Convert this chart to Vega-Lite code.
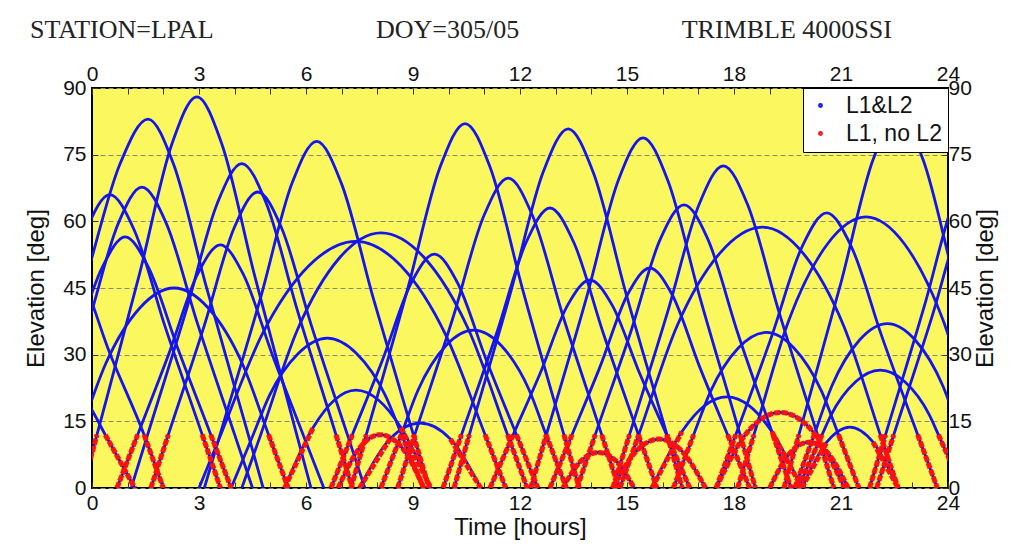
{
  "$schema": "https://vega.github.io/schema/vega-lite/v6.json",
  "autosize": "none",
  "width": 856,
  "height": 400,
  "padding": {"left": 92, "top": 88, "right": 71, "bottom": 57},
  "background": "white",
  "title": {
    "text": "STATION=LPAL\u00a0\u00a0\u00a0\u00a0\u00a0\u00a0\u00a0\u00a0\u00a0\u00a0\u00a0\u00a0\u00a0\u00a0\u00a0\u00a0\u00a0\u00a0\u00a0\u00a0\u00a0\u00a0\u00a0\u00a0\u00a0DOY=305/05\u00a0\u00a0\u00a0\u00a0\u00a0\u00a0\u00a0\u00a0\u00a0\u00a0\u00a0\u00a0\u00a0\u00a0\u00a0\u00a0\u00a0\u00a0\u00a0\u00a0\u00a0\u00a0\u00a0\u00a0\u00a0TRIMBLE 4000SSI",
    "anchor": "start",
    "frame": "group",
    "dx": -62,
    "offset": 20,
    "font": "Liberation Serif",
    "fontSize": 26,
    "fontWeight": "normal",
    "color": "#222"
  },
  "config": {
    "view": {"fill": "#fbf75e", "stroke": "#000", "strokeWidth": 2},
    "axis": {
      "labelFont": "Liberation Sans Narrow, Liberation Sans",
      "labelFontSize": 21,
      "labelColor": "#111",
      "titleFont": "Liberation Sans Narrow, Liberation Sans",
      "titleFontSize": 24,
      "titleFontWeight": "normal",
      "titleColor": "#111",
      "labelFlush": false,
      "labelOverlap": false,
      "domain": false,
      "tickColor": "#333",
      "tickSize": -6,
      "labelPadding": 10
    }
  },
  "datasets": {
    "sat": [
      {"s":"A","t":-2.5,"e":0},{"s":"A","t":-2.0,"e":12},{"s":"A","t":-1.0,"e":36.3},{"s":"A","t":-0.16,"e":58.1},{"s":"A","t":0.5,"e":66},{"s":"A","t":1.18,"e":58.1},{"s":"A","t":2.05,"e":36.3},{"s":"A","t":3.09,"e":12,"r":"A2"},{"s":"A","t":3.6,"e":0,"r":"A2"},
      {"s":"B","t":-2.0,"e":0},{"s":"B","t":-1.53,"e":12},{"s":"B","t":-0.22,"e":45.7},{"s":"B","t":0.79,"e":73},{"s":"B","t":1.57,"e":83},{"s":"B","t":2.28,"e":73},{"s":"B","t":3.19,"e":45.7},{"s":"B","t":4.38,"e":12},{"s":"B","t":4.8,"e":0},
      {"s":"C","t":-1.6,"e":0},{"s":"C","t":-1.12,"e":12},{"s":"C","t":-0.1,"e":37.2},{"s":"C","t":0.74,"e":59.6},{"s":"C","t":1.4,"e":67.7},{"s":"C","t":2.08,"e":59.6},{"s":"C","t":2.95,"e":37.2},{"s":"C","t":4.0,"e":12},{"s":"C","t":4.5,"e":0},
      {"s":"D","t":-2.0,"e":0},{"s":"D","t":-1.44,"e":12},{"s":"D","t":-0.54,"e":31.1},{"s":"D","t":0.29,"e":49.7},{"s":"D","t":0.93,"e":56.5},{"s":"D","t":1.58,"e":49.7},{"s":"D","t":2.42,"e":31.1},{"s":"D","t":3.33,"e":12,"r":"D2"},{"s":"D","t":3.9,"e":0,"r":"D2"},
      {"s":"E","t":-0.26,"e":0,"r":"E1"},{"s":"E","t":0.14,"e":12,"r":"E1"},{"s":"E","t":1.34,"e":48.4},{"s":"E","t":2.24,"e":77.4},{"s":"E","t":2.94,"e":88},{"s":"E","t":3.64,"e":77.4},{"s":"E","t":4.54,"e":48.4},{"s":"E","t":5.74,"e":12},{"s":"E","t":6.14,"e":0},
      {"s":"F","t":1.1,"e":0},{"s":"F","t":1.56,"e":12},{"s":"F","t":2.65,"e":40.2},{"s":"F","t":3.52,"e":64.2},{"s":"F","t":4.2,"e":73},{"s":"F","t":4.88,"e":64.2},{"s":"F","t":5.75,"e":40.2},{"s":"F","t":6.84,"e":12,"r":"F2"},{"s":"F","t":7.3,"e":0,"r":"F2"},
      {"s":"G","t":1.65,"e":0,"r":"G1"},{"s":"G","t":2.14,"e":12,"r":"G1"},{"s":"G","t":3.15,"e":36.6},{"s":"G","t":3.99,"e":58.6},{"s":"G","t":4.65,"e":66.6},{"s":"G","t":5.31,"e":58.6},{"s":"G","t":6.15,"e":36.6},{"s":"G","t":7.16,"e":12},{"s":"G","t":7.65,"e":0},
      {"s":"H","t":0.7,"e":0,"r":"H1"},{"s":"H","t":1.28,"e":12,"r":"H1"},{"s":"H","t":2.15,"e":30.1},{"s":"H","t":2.96,"e":48.1},{"s":"H","t":3.6,"e":54.7},{"s":"H","t":4.24,"e":48.1},{"s":"H","t":5.05,"e":30.1},{"s":"H","t":5.92,"e":12},{"s":"H","t":6.5,"e":0},
      {"s":"I","t":3.15,"e":0},{"s":"I","t":3.59,"e":12},{"s":"I","t":4.73,"e":42.9},{"s":"I","t":5.61,"e":68.6},{"s":"I","t":6.3,"e":78},{"s":"I","t":6.99,"e":68.6},{"s":"I","t":7.88,"e":42.9},{"s":"I","t":9.01,"e":12,"r":"I2"},{"s":"I","t":9.45,"e":0,"r":"I2"},
      {"s":"J1","t":3.0,"e":0},{"s":"J1","t":3.61,"e":12},{"s":"J1","t":4.76,"e":34.4},{"s":"J1","t":6.08,"e":50},{"s":"J1","t":7.4,"e":55.5},{"s":"J1","t":8.66,"e":50},{"s":"J1","t":9.92,"e":34.4},{"s":"J1","t":11.02,"e":12,"r":"J12"},{"s":"J1","t":11.6,"e":0,"r":"J12"},
      {"s":"J2","t":4.2,"e":0},{"s":"J2","t":4.73,"e":12},{"s":"J2","t":5.76,"e":35.6},{"s":"J2","t":6.93,"e":51.7},{"s":"J2","t":8.1,"e":57.4},{"s":"J2","t":9.33,"e":51.7},{"s":"J2","t":10.56,"e":35.6},{"s":"J2","t":11.65,"e":12,"r":"J22"},{"s":"J2","t":12.2,"e":0,"r":"J22"},
      {"s":"K","t":3.9,"e":0},{"s":"K","t":4.52,"e":12},{"s":"K","t":4.98,"e":20.9},{"s":"K","t":5.79,"e":30.3},{"s":"K","t":6.6,"e":33.7},{"s":"K","t":7.41,"e":30.3},{"s":"K","t":8.22,"e":20.9},{"s":"K","t":8.68,"e":12,"r":"K2"},{"s":"K","t":9.3,"e":0,"r":"K2"},
      {"s":"L","t":5.4,"e":0,"r":"L1"},{"s":"L","t":6.2,"e":13.6,"r":"L1"},{"s":"L","t":6.8,"e":19.8},{"s":"L","t":7.4,"e":22},{"s":"L","t":8.03,"e":19.8},{"s":"L","t":8.66,"e":13.6,"r":"L2"},{"s":"L","t":9.5,"e":0,"r":"L2"},
      {"s":"M","t":6.9,"e":0,"r":"M"},{"s":"M","t":7.5,"e":9,"r":"M"},{"s":"M","t":8.07,"e":12,"r":"M"},{"s":"M","t":8.7,"e":9,"r":"M"},{"s":"M","t":9.3,"e":0,"r":"M"},
      {"s":"N","t":7.5,"e":0,"r":"N"},{"s":"N","t":8.35,"e":11,"r":"N"},{"s":"N","t":9.2,"e":14.6},{"s":"N","t":10.05,"e":11,"r":"N2"},{"s":"N","t":10.9,"e":0,"r":"N2"},
      {"s":"O","t":6.7,"e":0,"r":"O1"},{"s":"O","t":7.3,"e":12,"r":"O1"},{"s":"O","t":8.15,"e":28.9},{"s":"O","t":8.96,"e":46.3},{"s":"O","t":9.6,"e":52.6},{"s":"O","t":10.24,"e":46.3},{"s":"O","t":11.05,"e":28.9},{"s":"O","t":11.9,"e":12,"r":"O2"},{"s":"O","t":12.5,"e":0,"r":"O2"},
      {"s":"P","t":7.26,"e":0,"r":"P1"},{"s":"P","t":7.69,"e":12,"r":"P1"},{"s":"P","t":8.86,"e":45.1},{"s":"P","t":9.76,"e":72.2},{"s":"P","t":10.46,"e":82},{"s":"P","t":11.16,"e":72.2},{"s":"P","t":12.06,"e":45.1},{"s":"P","t":13.23,"e":12,"r":"P2"},{"s":"P","t":13.66,"e":0,"r":"P2"},
      {"s":"Q","t":8.57,"e":0,"r":"Q1"},{"s":"Q","t":9.05,"e":12,"r":"Q1"},{"s":"Q","t":10.12,"e":38.3},{"s":"Q","t":10.99,"e":61.3},{"s":"Q","t":11.67,"e":69.7},{"s":"Q","t":12.35,"e":61.3},{"s":"Q","t":13.22,"e":38.3},{"s":"Q","t":14.29,"e":12,"r":"Q2"},{"s":"Q","t":14.77,"e":0,"r":"Q2"},
      {"s":"R","t":9.84,"e":0,"r":"R1"},{"s":"R","t":10.36,"e":12,"r":"R1"},{"s":"R","t":11.34,"e":34.7},{"s":"R","t":12.18,"e":55.4},{"s":"R","t":12.84,"e":63},{"s":"R","t":13.5,"e":55.4},{"s":"R","t":14.34,"e":34.7},{"s":"R","t":15.32,"e":12,"r":"R2"},{"s":"R","t":15.84,"e":0,"r":"R2"},
      {"s":"S","t":10.15,"e":0,"r":"S1"},{"s":"S","t":10.58,"e":12,"r":"S1"},{"s":"S","t":11.75,"e":44.4},{"s":"S","t":12.65,"e":71.1},{"s":"S","t":13.35,"e":80.8},{"s":"S","t":14.05,"e":71.1},{"s":"S","t":14.95,"e":44.4},{"s":"S","t":16.12,"e":12,"r":"S2"},{"s":"S","t":16.55,"e":0,"r":"S2"},
      {"s":"T","t":8.1,"e":0,"r":"T1"},{"s":"T","t":8.67,"e":12,"r":"T1"},{"s":"T","t":9.14,"e":22},{"s":"T","t":9.92,"e":32},{"s":"T","t":10.7,"e":35.5},{"s":"T","t":11.48,"e":32},{"s":"T","t":12.26,"e":22},{"s":"T","t":12.73,"e":12,"r":"T2"},{"s":"T","t":13.3,"e":0,"r":"T2"},
      {"s":"U","t":11.16,"e":0,"r":"U1"},{"s":"U","t":11.81,"e":12,"r":"U1"},{"s":"U","t":12.56,"e":25.7},{"s":"U","t":13.34,"e":41.2},{"s":"U","t":13.96,"e":46.8},{"s":"U","t":14.58,"e":41.2},{"s":"U","t":15.36,"e":25.7},{"s":"U","t":16.11,"e":12,"r":"U2"},{"s":"U","t":16.76,"e":0,"r":"U2"},
      {"s":"V","t":12.3,"e":0,"r":"V1"},{"s":"V","t":12.74,"e":12,"r":"V1"},{"s":"V","t":13.88,"e":43.3},{"s":"V","t":14.76,"e":69.3},{"s":"V","t":15.45,"e":78.8},{"s":"V","t":16.14,"e":69.3},{"s":"V","t":17.03,"e":43.3},{"s":"V","t":18.17,"e":12,"r":"V2"},{"s":"V","t":18.6,"e":0,"r":"V2"},
      {"s":"W","t":12.84,"e":0,"r":"W1"},{"s":"W","t":13.46,"e":12,"r":"W1"},{"s":"W","t":14.24,"e":27.2},{"s":"W","t":15.02,"e":43.6},{"s":"W","t":15.64,"e":49.5},{"s":"W","t":16.26,"e":43.6},{"s":"W","t":17.04,"e":27.2},{"s":"W","t":17.82,"e":12,"r":"W2"},{"s":"W","t":18.44,"e":0,"r":"W2"},
      {"s":"X","t":13.6,"e":0,"r":"X1"},{"s":"X","t":14.11,"e":12,"r":"X1"},{"s":"X","t":15.1,"e":35},{"s":"X","t":15.94,"e":56.1},{"s":"X","t":16.6,"e":63.7},{"s":"X","t":17.26,"e":56.1},{"s":"X","t":18.1,"e":35},{"s":"X","t":19.09,"e":12,"r":"X2"},{"s":"X","t":19.6,"e":0,"r":"X2"},
      {"s":"Y","t":14.6,"e":0,"r":"Y1"},{"s":"Y","t":15.07,"e":12,"r":"Y1"},{"s":"Y","t":16.15,"e":39.9},{"s":"Y","t":17.02,"e":63.8},{"s":"Y","t":17.7,"e":72.5},{"s":"Y","t":18.38,"e":63.8},{"s":"Y","t":19.25,"e":39.9},{"s":"Y","t":20.34,"e":12,"r":"Y2"},{"s":"Y","t":20.8,"e":0,"r":"Y2"},
      {"s":"Z","t":14.8,"e":0,"r":"Z1"},{"s":"Z","t":15.33,"e":12,"r":"Z1"},{"s":"Z","t":16.4,"e":36.4},{"s":"Z","t":17.6,"e":52.8},{"s":"Z","t":18.8,"e":58.7},{"s":"Z","t":19.94,"e":52.8},{"s":"Z","t":21.08,"e":36.4},{"s":"Z","t":22.1,"e":12,"r":"Z2"},{"s":"Z","t":22.6,"e":0,"r":"Z2"},
      {"s":"AA","t":17.5,"e":0,"r":"AA1"},{"s":"AA","t":18.05,"e":12,"r":"AA1"},{"s":"AA","t":19.05,"e":34},{"s":"AA","t":19.92,"e":54.5},{"s":"AA","t":20.6,"e":61.9},{"s":"AA","t":21.28,"e":54.5},{"s":"AA","t":22.15,"e":34},{"s":"AA","t":23.15,"e":12,"r":"AA2"},{"s":"AA","t":23.7,"e":0,"r":"AA2"},
      {"s":"AB","t":18.1,"e":0,"r":"AB1"},{"s":"AB","t":18.56,"e":12,"r":"AB1"},{"s":"AB","t":19.54,"e":37.8},{"s":"AB","t":20.62,"e":54.9},{"s":"AB","t":21.7,"e":61},{"s":"AB","t":22.78,"e":54.9},{"s":"AB","t":23.86,"e":37.8},{"s":"AB","t":24.84,"e":12},{"s":"AB","t":25.3,"e":0},
      {"s":"AC","t":19.4,"e":0,"r":"AC1"},{"s":"AC","t":19.82,"e":12,"r":"AC1"},{"s":"AC","t":21.0,"e":46.2},{"s":"AC","t":21.9,"e":73.9},{"s":"AC","t":22.6,"e":84},{"s":"AC","t":23.3,"e":73.9},{"s":"AC","t":24.2,"e":46.2},{"s":"AC","t":25.38,"e":12},{"s":"AC","t":25.8,"e":0},
      {"s":"AD","t":19.7,"e":0,"r":"AD1"},{"s":"AD","t":20.25,"e":12,"r":"AD1"},{"s":"AD","t":20.74,"e":22.9},{"s":"AD","t":21.52,"e":33.3},{"s":"AD","t":22.3,"e":37},{"s":"AD","t":23.08,"e":33.3},{"s":"AD","t":23.86,"e":22.9},{"s":"AD","t":24.35,"e":12,"r":"AD2"},{"s":"AD","t":24.9,"e":0,"r":"AD2"},
      {"s":"AE","t":19.8,"e":0,"r":"AE1"},{"s":"AE","t":20.47,"e":12,"r":"AE1"},{"s":"AE","t":20.72,"e":16.4},{"s":"AE","t":21.41,"e":23.9},{"s":"AE","t":22.1,"e":26.5},{"s":"AE","t":22.79,"e":23.9},{"s":"AE","t":23.48,"e":16.4},{"s":"AE","t":23.73,"e":12,"r":"AE2"},{"s":"AE","t":24.4,"e":0,"r":"AE2"},
      {"s":"AF","t":16.3,"e":0,"r":"AF1"},{"s":"AF","t":16.87,"e":12,"r":"AF1"},{"s":"AF","t":17.34,"e":21.7},{"s":"AF","t":18.12,"e":31.5},{"s":"AF","t":18.9,"e":35},{"s":"AF","t":19.68,"e":31.5},{"s":"AF","t":20.46,"e":21.7},{"s":"AF","t":20.93,"e":12,"r":"AF2"},{"s":"AF","t":21.5,"e":0,"r":"AF2"},
      {"s":"AG","t":15.7,"e":0,"r":"AG1"},{"s":"AG","t":16.54,"e":12.7,"r":"AG1"},{"s":"AG","t":17.17,"e":18.5},{"s":"AG","t":17.8,"e":20.5},{"s":"AG","t":18.43,"e":18.5},{"s":"AG","t":19.06,"e":12.7,"r":"AG2"},{"s":"AG","t":19.9,"e":0,"r":"AG2"},
      {"s":"AH","t":17.5,"e":0,"r":"AH"},{"s":"AH","t":18.4,"e":12.8,"r":"AH"},{"s":"AH","t":19.3,"e":17,"r":"AH"},{"s":"AH","t":20.2,"e":12.8,"r":"AH"},{"s":"AH","t":21.1,"e":0,"r":"AH"},
      {"s":"AI","t":19.9,"e":0,"r":"AI1"},{"s":"AI","t":20.6,"e":10.3,"r":"AI1"},{"s":"AI","t":21.25,"e":13.7},{"s":"AI","t":21.9,"e":10.3,"r":"AI2"},{"s":"AI","t":22.6,"e":0,"r":"AI2"},
      {"s":"AJ","t":19.0,"e":0,"r":"AJ"},{"s":"AJ","t":19.55,"e":7.7,"r":"AJ"},{"s":"AJ","t":20.1,"e":10.3,"r":"AJ"},{"s":"AJ","t":20.65,"e":7.7,"r":"AJ"},{"s":"AJ","t":21.2,"e":0,"r":"AJ"},
      {"s":"AK","t":21.8,"e":0,"r":"AK1"},{"s":"AK","t":22.25,"e":12,"r":"AK1"},{"s":"AK","t":23.35,"e":41.3},{"s":"AK","t":24.22,"e":66},{"s":"AK","t":24.9,"e":75},
      {"s":"AL","t":22.0,"e":0,"r":"AL1"},{"s":"AL","t":22.48,"e":12,"r":"AL1"},{"s":"AL","t":23.55,"e":38.5},{"s":"AL","t":24.42,"e":61.6},{"s":"AL","t":25.1,"e":70},
      {"s":"AM","t":14.6,"e":0,"r":"AM"},{"s":"AM","t":15.25,"e":8.2,"r":"AM"},{"s":"AM","t":15.9,"e":11,"r":"AM"},{"s":"AM","t":16.55,"e":8.2,"r":"AM"},{"s":"AM","t":17.2,"e":0,"r":"AM"},
      {"s":"AN","t":13.2,"e":0,"r":"AN"},{"s":"AN","t":13.7,"e":6,"r":"AN"},{"s":"AN","t":14.2,"e":8,"r":"AN"},{"s":"AN","t":14.7,"e":6,"r":"AN"},{"s":"AN","t":15.2,"e":0,"r":"AN"},
      {"s":"AP","t":-4.0,"e":0},{"s":"AP","t":-3.5,"e":12},{"s":"AP","t":-2.5,"e":30.3},{"s":"AP","t":-1.66,"e":48.4},{"s":"AP","t":-1.0,"e":55},{"s":"AP","t":-0.34,"e":48.4},{"s":"AP","t":0.5,"e":30.3},{"s":"AP","t":1.46,"e":12,"r":"AP2"},{"s":"AP","t":2.0,"e":0,"r":"AP2"},
      {"s":"AQ","t":-2.0,"e":30},{"s":"AQ","t":-1.04,"e":27},{"s":"AQ","t":-0.08,"e":18.6},{"s":"AQ","t":0.37,"e":12,"r":"AQ2"},{"s":"AQ","t":1.2,"e":0,"r":"AQ2"},
      {"s":"AR","t":-0.9,"e":0},{"s":"AR","t":-0.35,"e":12},{"s":"AR","t":0.38,"e":27.9},{"s":"AR","t":1.34,"e":40.5},{"s":"AR","t":2.3,"e":45},{"s":"AR","t":3.26,"e":40.5},{"s":"AR","t":4.22,"e":27.9},{"s":"AR","t":4.95,"e":12,"r":"AR2"},{"s":"AR","t":5.5,"e":0,"r":"AR2"}
    ]
  },
  "data": {"name": "sat"},
  "layer": [
    {
      "mark": {"type": "line", "interpolate": "monotone", "clip": true, "strokeWidth": 2.8},
      "encoding": {
        "x": {"field": "t", "type": "quantitative",
              "scale": {"domain": [0, 24], "nice": false, "zero": false},
              "axis": {"orient": "bottom", "values": [0,1,2,3,4,5,6,7,8,9,10,11,12,13,14,15,16,17,18,19,20,21,22,23,24],
                       "labelExpr": "datum.value % 3 == 0 ? datum.label : ''",
                       "title": "Time [hours]", "titlePadding": 2, "grid": false}},
        "y": {"field": "e", "type": "quantitative",
              "scale": {"domain": [0, 90], "nice": false},
              "axis": {"orient": "left", "values": [0,15,30,45,60,75,90], "title": "Elevation [deg]",
                       "titlePadding": 14, "grid": true, "gridDash": [5, 3], "gridColor": "#8a8a7a", "gridWidth": 1.2, "labelPadding": 12}},
        "detail": {"field": "s"},
        "color": {"datum": "L1&L2", "type": "nominal",
                  "scale": {"domain": ["L1&L2", "L1, no L2"], "range": ["#1414f0", "#ff1010"]},
                  "legend": {"title": null, "orient": "top-right", "offset": 0, "fillColor": "white", "strokeColor": "#000",
                             "padding": 6, "labelFont": "Liberation Sans", "labelFontSize": 23, "labelColor": "#111",
                             "symbolType": "circle", "symbolSize": 8, "symbolStrokeWidth": 2, "rowPadding": 4, "labelOffset": 14}}
      }
    },
    {
      "transform": [{"filter": "isValid(datum.r)"}],
      "mark": {"type": "line", "interpolate": "monotone", "clip": true, "strokeWidth": 5, "strokeDash": [6, 1.5]},
      "encoding": {
        "x": {"field": "t", "type": "quantitative",
              "axis": {"orient": "top", "values": [0,1,2,3,4,5,6,7,8,9,10,11,12,13,14,15,16,17,18,19,20,21,22,23,24],
                       "labelExpr": "datum.value % 3 == 0 ? datum.label : ''", "title": null, "grid": false}},
        "y": {"field": "e", "type": "quantitative",
              "axis": {"orient": "right", "values": [0,15,30,45,60,75,90], "title": "Elevation [deg]", "titleAngle": 270,
                       "titlePadding": 26, "grid": false, "labelPadding": 6}},
        "detail": {"field": "r"},
        "color": {"datum": "L1, no L2", "type": "nominal"}
      }
    }
  ],
  "resolve": {"axis": {"x": "independent", "y": "independent"}}
}
